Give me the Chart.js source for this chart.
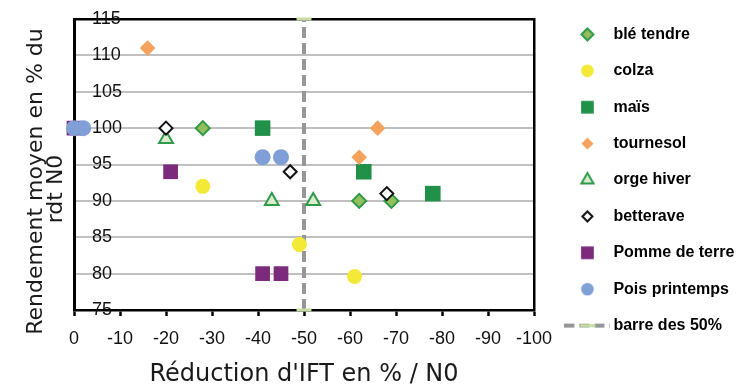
<!DOCTYPE html>
<html><head><meta charset="utf-8">
<script src="https://cdn.jsdelivr.net/npm/chart.js@4/dist/chart.umd.min.js"></script>
<style>html,body{margin:0;padding:0;background:#fff;}#wrap{width:736px;height:390px;}</style>
</head><body>
<div id="wrap"><canvas id="c" width="736" height="390"></canvas></div>
<script>
// ---- data ----
const seriesNames = ['blé tendre', 'colza', 'maïs', 'tournesol', 'orge hiver', 'betterave', 'Pomme de terre', 'Pois printemps', 'barre des 50%'];
const bleX = [-28, -62, -69];        const bleY = [100, 90, 90];
const colzaX = [-28, -49, -61];      const colzaY = [92, 84, 79.6];
const maisX = [-41, -63, -78];       const maisY = [100, 94, 91];
const tournesolX = [-16, -66, -62];  const tournesolY = [111, 100, 96];
const orgeX = [-20, -43, -52];       const orgeY = [98.5, 90, 90];
const betteraveX = [-20, -47, -68];  const betteraveY = [100, 94, 91];
const pommeX = [0, -21, -41, -45];   const pommeY = [100, 94, 80, 80];
const poisX = [0, -2, -41, -45];     const poisY = [100, 100, 96, 96];
const barreX = [-50, -50];           const barreY = [75, 115];
const xTicks = [0, -10, -20, -30, -40, -50, -60, -70, -80, -90, -100];
const yTicks = [75, 80, 85, 90, 95, 100, 105, 110, 115];
const xTitle = "Réduction d'IFT en % / N0";
const yTitleLines = ['Rendement moyen en % du', 'rdt N0'];

// ---- styles ----
const pts = (xs, ys) => xs.map((x, i) => ({x: x, y: ys[i]}));
const styles = [
  {ps: 'rectRot',  r: 7,   bg: '#93bf5e', bc: '#2f9a48', bw: 2,  lr: 6},
  {ps: 'circle',   r: 7.5, bg: '#f3e936', bc: '#f3e936', bw: 0,  lr: 6.3},
  {ps: 'rect',     r: 11,  bg: '#21914a', bc: '#21914a', bw: 0,  lr: 9},
  {ps: 'rectRot',  r: 7.8, bg: '#f5a25d', bc: '#f5a25d', bw: 0,  lr: 6},
  {ps: 'triangle', r: 8,   bg: '#d9ecd0', bc: '#2f9a48', bw: 2,  lr: 7},
  {ps: 'rectRot',  r: 6.5, bg: '#ffffff', bc: '#111111', bw: 2,  lr: 5},
  {ps: 'rect',     r: 10.4,bg: '#7b2a7c', bc: '#7b2a7c', bw: 0,  lr: 9},
  {ps: 'circle',   r: 8,   bg: '#809fd6', bc: '#809fd6', bw: 0,  lr: 6.3}
];
const xsList = [bleX, colzaX, maisX, tournesolX, orgeX, betteraveX, pommeX, poisX];
const ysList = [bleY, colzaY, maisY, tournesolY, orgeY, betteraveY, pommeY, poisY];

const datasets = xsList.map((xs, i) => ({
  label: seriesNames[i],
  data: pts(xs, ysList[i]),
  pointStyle: styles[i].ps,
  pointRadius: styles[i].r,
  pointHoverRadius: styles[i].r,
  backgroundColor: styles[i].bg,
  borderColor: styles[i].bc,
  borderWidth: styles[i].bw,
  order: 10 - i,
  clip: false
}));
datasets.push({
  label: seriesNames[8],
  data: pts(barreX, barreY),
  showLine: true,
  borderColor: '#969696',
  backgroundColor: '#969696',
  borderWidth: 4,
  borderDash: [11, 5],
  pointStyle: 'line',
  pointRadius: 7.5,
  pointHoverRadius: 7.5,
  pointBorderColor: '#c6dca2',
  pointBackgroundColor: '#c6dca2',
  pointBorderWidth: 3,
  order: 100,
  clip: false
});

// ---- legend markers ----
function makeMarker(st) {
  const s = Math.ceil(st.lr * 2 + st.bw + 3);
  const c = document.createElement('canvas'); c.width = s; c.height = s;
  const g = c.getContext('2d');
  g.fillStyle = st.bg; g.strokeStyle = st.bc; g.lineWidth = st.bw;
  Chart.helpers.drawPoint(g, {pointStyle: st.ps, radius: st.lr, borderWidth: st.bw, rotation: 0}, s / 2, s / 2);
  return c;
}
function makeLineMarker() {
  const c = document.createElement('canvas'); c.width = 46; c.height = 6;
  const g = c.getContext('2d');
  g.strokeStyle = '#969696'; g.lineWidth = 4; g.setLineDash([10, 5]);
  g.beginPath(); g.moveTo(0, 3); g.lineTo(46, 3); g.stroke();
  g.setLineDash([]); g.strokeStyle = '#c6dca2'; g.lineWidth = 3;
  g.beginPath(); g.moveTo(16, 3); g.lineTo(31, 3); g.stroke();
  return c;
}
let legendMarkers = null;
try {
  legendMarkers = styles.map(makeMarker);
  legendMarkers.push(makeLineMarker());
} catch (e) { legendMarkers = null; }

const yTitlePlugin = {
  id: 'yTitle',
  afterDraw(chart) {
    const ctx = chart.ctx;
    const xs = [36, 56], ys = [181.5, 189];
    ctx.save();
    ctx.fillStyle = '#1a1a1a';
    ctx.font = '22px "DejaVu Sans"';
    ctx.textAlign = 'center';
    ctx.textBaseline = 'middle';
    yTitleLines.forEach((t, i) => {
      ctx.save(); ctx.translate(xs[i], ys[i]); ctx.rotate(-Math.PI / 2);
      ctx.fillText(t, 0, 0); ctx.restore();
    });
    ctx.restore();
  }
};
const fixLegend = {
  id: 'fixLegend',
  beforeLayout(chart) {
    const lg = chart.legend;
    if (lg && !lg.__patched) {
      const f = lg.fit;
      lg.fit = function () { f.call(this); this.width = 187; };
      lg.__patched = true;
    }
  }
};
const noPad = s => { s.paddingTop = 0; s.paddingBottom = 0; s.paddingLeft = 0; s.paddingRight = 0; };

const tickFont = {family: '"Liberation Sans", Arial, sans-serif', size: 18};

new Chart(document.getElementById('c'), {
  type: 'scatter',
  data: {datasets: datasets},
  plugins: [yTitlePlugin, fixLegend],
  options: {
    responsive: false,
    animation: false,
    devicePixelRatio: 1,
    layout: {padding: {top: 6, left: 0, right: 0, bottom: 0}},
    plugins: {
      tooltip: {enabled: false},
      legend: {
        position: 'right',
        align: 'start',
        maxWidth: 187,
        labels: {
          usePointStyle: true,
          pointStyleWidth: 36,
          padding: 20.4,
          color: '#000',
          font: {family: '"Liberation Sans", Arial, sans-serif', size: 16, weight: 'bold'},
          sort: (a, b) => a.datasetIndex - b.datasetIndex,
          generateLabels(chart) {
            const items = Chart.defaults.plugins.legend.labels.generateLabels(chart);
            if (legendMarkers) items.forEach(it => { it.pointStyle = legendMarkers[it.datasetIndex]; });
            return items;
          }
        }
      }
    },
    scales: {
      x: {
        type: 'linear', position: 'bottom', min: -100, max: 0, reverse: true,
        afterBuildTicks: s => { s.ticks = xTicks.map(v => ({value: v})); },
        afterFit: s => { s.height = 80; noPad(s); },
        grid: {drawOnChartArea: false, drawTicks: true, tickLength: 6, tickWidth: 2.5, tickColor: '#000'},
        border: {display: true, color: '#000', width: 2.5},
        ticks: {padding: 12, font: tickFont, color: '#111', maxRotation: 0, autoSkip: false, callback: v => String(v)},
        title: {display: true, text: xTitle, color: '#1a1a1a', font: {family: '"DejaVu Sans"', size: 24}, padding: {top: 0, bottom: 1}}
      },
      x2: {
        type: 'linear', position: 'top', min: -100, max: 0, reverse: true,
        afterFit: s => { s.height = 13; noPad(s); },
        grid: {drawOnChartArea: false, drawTicks: false},
        ticks: {display: false},
        border: {display: true, color: '#000', width: 2.5}
      },
      y: {
        type: 'linear', position: 'left', min: 75, max: 115,
        afterBuildTicks: s => { s.ticks = yTicks.map(v => ({value: v})); },
        afterFit: s => { s.width = 74; noPad(s); },
        grid: {color: '#c0c0c0', lineWidth: 2, drawTicks: false},
        border: {display: true, color: '#000', width: 3},
        ticks: {mirror: true, padding: 18, font: tickFont, color: '#111', callback: v => String(v)}
      },
      y2: {
        type: 'linear', position: 'right', min: 75, max: 115,
        afterFit: s => { s.width = 15; noPad(s); },
        grid: {drawOnChartArea: false, drawTicks: false},
        ticks: {display: false},
        border: {display: true, color: '#000', width: 2.5}
      }
    }
  }
});
</script>
</body></html>
